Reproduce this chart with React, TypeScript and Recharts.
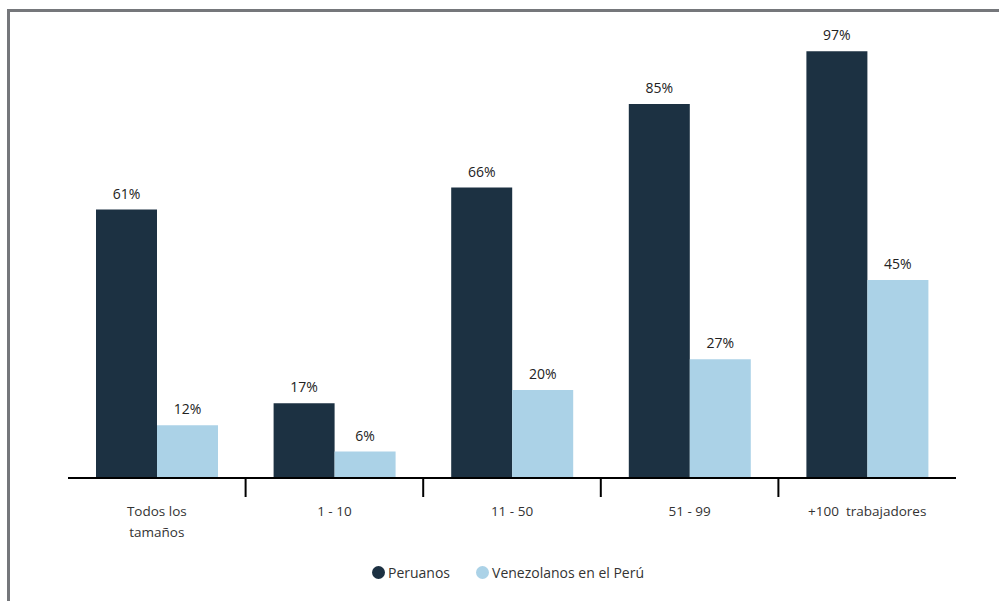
import { Bar, BarChart, LabelList, Legend, XAxis, YAxis } from "recharts";

const categories = ["Todos los tamaños", "1 - 10", "11 - 50", "51 - 99", "+100  trabajadores"];
const peruanos = [61, 17, 66, 85, 97];
const venezolanos = [12, 6, 20, 27, 45];

const DARK = "#1c3142";
const LIGHT = "#abd2e7";
const FONT = "'Open Sans', sans-serif";

const WIDTH = 999;
const HEIGHT = 601;
const MARGIN = { top: 38, right: 43, bottom: 8, left: 68 };
const BAND = (WIDTH - MARGIN.left - MARGIN.right) / categories.length;

const data = categories.map((name, i) => ({
  name,
  peruanos: peruanos[i],
  venezolanos: venezolanos[i],
}));

// category label plus the separator tick on the left edge of each band
function CategoryTick(props: any) {
  const { x, y, index, payload } = props;
  const lines =
    payload.value === "Todos los tamaños" ? ["Todos los", "tamaños"] : [payload.value];
  return (
    <g>
      {index > 0 && (
        <line x1={x - BAND / 2} x2={x - BAND / 2} y1={y} y2={y + 19} stroke="#000" strokeWidth={2} />
      )}
      <text
        x={x}
        y={y + 38}
        textAnchor="middle"
        fill="#333"
        fontSize={13.5}
        fontFamily={FONT}
        style={{ whiteSpace: "pre" }}
      >
        {lines.map((line, i) => (
          <tspan key={i} x={x} dy={i === 0 ? 0 : 21}>
            {line}
          </tspan>
        ))}
      </text>
    </g>
  );
}

function LegendContent() {
  const items = [
    { label: "Peruanos", color: DARK },
    { label: "Venezolanos en el Perú", color: LIGHT },
  ];
  return (
    <div
      style={{
        display: "flex",
        justifyContent: "center",
        gap: 26,
        fontFamily: FONT,
        fontSize: 14,
        color: "#333",
        paddingRight: 8,
      }}
    >
      {items.map((item) => (
        <span key={item.label} style={{ display: "flex", alignItems: "center", gap: 3 }}>
          <span
            style={{
              width: 13,
              height: 13,
              borderRadius: "50%",
              background: item.color,
              display: "inline-block",
            }}
          />
          {item.label}
        </span>
      ))}
    </div>
  );
}

export default function App() {
  return (
    <div style={{ position: "absolute", left: 0, top: 0, width: WIDTH, height: HEIGHT, background: "#fff" }}>
      <div
        style={{
          position: "absolute",
          left: 7,
          top: 9,
          right: 0,
          bottom: 0,
          borderTop: "3px solid #75777b",
          borderLeft: "3px solid #75777b",
        }}
      />
      <div style={{ position: "absolute", left: 0, top: 0 }}>
        <BarChart width={WIDTH} height={HEIGHT} data={data} margin={MARGIN} barSize={61} barGap={0}>
          <XAxis
            dataKey="name"
            height={85}
            interval={0}
            tickLine={false}
            tickSize={0}
            tickMargin={0}
            axisLine={{ stroke: "#000", strokeWidth: 2 }}
            tick={<CategoryTick />}
          />
          <YAxis hide domain={[0, 100]} />
          <Legend verticalAlign="bottom" height={30} content={<LegendContent />} />
          <Bar dataKey="peruanos" name="Peruanos" fill={DARK} isAnimationActive={false}>
            <LabelList
              dataKey="peruanos"
              position="top"
              offset={11}
              formatter={(v: any) => `${v}%`}
              fill="#222"
              fontSize={14}
              fontFamily={FONT}
            />
          </Bar>
          <Bar dataKey="venezolanos" name="Venezolanos en el Perú" fill={LIGHT} isAnimationActive={false}>
            <LabelList
              dataKey="venezolanos"
              position="top"
              offset={11}
              formatter={(v: any) => `${v}%`}
              fill="#222"
              fontSize={14}
              fontFamily={FONT}
            />
          </Bar>
        </BarChart>
      </div>
    </div>
  );
}
